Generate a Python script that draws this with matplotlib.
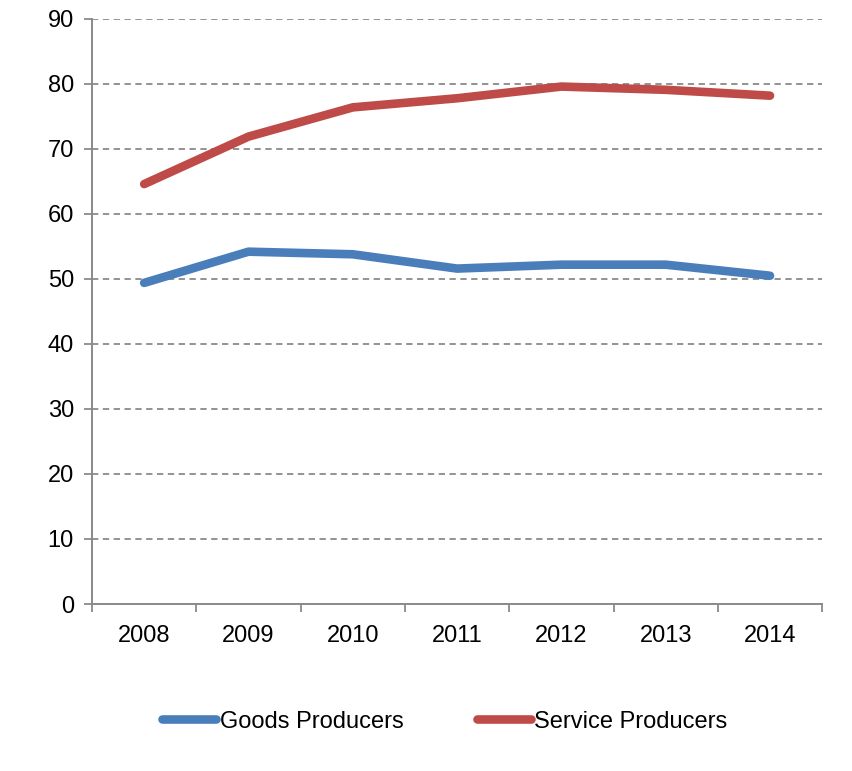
import matplotlib
matplotlib.use("Agg")
import matplotlib.pyplot as plt
import numpy as np

years = ["2008", "2009", "2010", "2011", "2012", "2013", "2014"]
goods = [49.4, 54.2, 53.8, 51.6, 52.2, 52.2, 50.5]
service = [64.6, 71.9, 76.4, 77.8, 79.6, 79.1, 78.2]

plt.rcParams['font.family'] = ['Liberation Sans', 'DejaVu Sans']

fig = plt.figure(figsize=(8.52, 7.71), dpi=100)
ax = fig.add_axes([0.108, 0.2166, 0.857, 0.7588])

x = np.arange(len(years))
ax.plot(x, goods, color="#4A7EBB", lw=6.2, solid_capstyle="round", solid_joinstyle="round", label="Goods Producers")
ax.plot(x, service, color="#BE4B48", lw=6.2, solid_capstyle="round", solid_joinstyle="round", label="Service Producers")

ax.set_xlim(-0.5, len(years) - 0.5)
ax.set_ylim(0, 90)
ax.set_yticks(range(0, 91, 10))
ax.set_xticks(x)
ax.set_xticklabels(years)
ax.set_xticks(np.arange(-0.5, len(years), 1), minor=True)

# gridlines
ax.yaxis.grid(True, color="#8a8a8a", linestyle=(0, (3.5, 2.5)), lw=1.3)
ax.set_axisbelow(True)

for s in ["top", "right"]:
    ax.spines[s].set_visible(False)
for s in ["left", "bottom"]:
    ax.spines[s].set_color("#8a8a8a")
    ax.spines[s].set_linewidth(1.4)

ax.tick_params(axis="y", length=6, width=1.3, color="#8a8a8a", labelsize=17, pad=7)
ax.tick_params(axis="x", which="major", length=0, labelsize=17, pad=15)
ax.tick_params(axis="x", which="minor", length=6, width=1.3, color="#8a8a8a")

fig.legend(loc="center", bbox_to_anchor=(0.522, 0.064), ncol=2, frameon=False,
           fontsize=17, handlelength=2.3, handletextpad=0.15, columnspacing=3.1)

plt.savefig("out.png", dpi=100)
